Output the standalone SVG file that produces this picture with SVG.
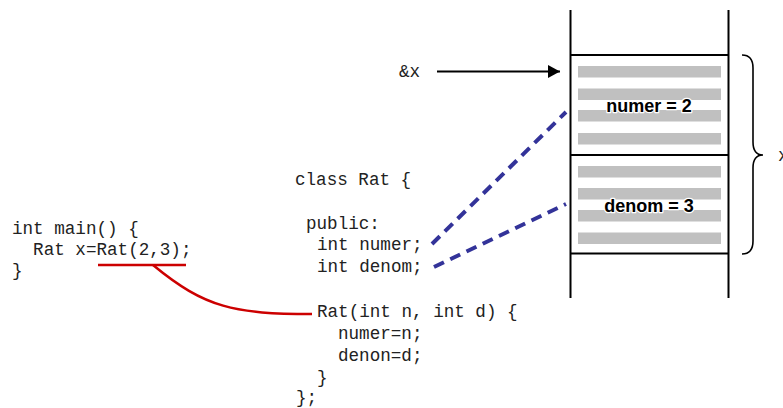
<svg xmlns="http://www.w3.org/2000/svg" width="783" height="408" viewBox="0 0 783 408">
<style>
.code{font-family:"Liberation Mono","Courier New",monospace;font-size:17.6px;fill:#222}
.bar{fill:#c0c0c0}
.lbl{font-family:"Liberation Sans",Arial,sans-serif;font-size:18px;font-weight:bold;fill:#000;text-anchor:middle;stroke:#fff;stroke-width:2.5;paint-order:stroke;stroke-linejoin:round}
.blk{stroke:#000;stroke-width:2;fill:none}
.blue{stroke:#333399;stroke-width:4;stroke-dasharray:11,7;fill:none}
</style>
<defs>
<marker id="ah" markerWidth="12" markerHeight="13" refX="12" refY="6.5" orient="auto" markerUnits="userSpaceOnUse">
<path d="M0,0 L12,6.5 L0,13 Z" fill="#000"/>
</marker>
</defs>
<rect width="783" height="408" fill="#fff"/>
<g id="main-code" class="code">
<text x="12" y="234">int main() {</text>
<text x="12" y="255" xml:space="preserve">  Rat x=Rat(2,3);</text>
<text x="12" y="276">}</text>
</g>
<g id="class-code" class="code">
<text x="295" y="185">class Rat {</text>
<text x="306" y="229">public:</text>
<text x="317" y="250">int numer;</text>
<text x="317" y="272">int denom;</text>
<text x="317" y="317">Rat(int n, int d) {</text>
<text x="338" y="339">numer=n;</text>
<text x="338" y="361">denon=d;</text>
<text x="317" y="383">}</text>
<text x="296" y="403">};</text>
</g>
<g id="addr">
<text x="399" y="77" class="code">&amp;x</text>
</g>
<g id="stack">
<line x1="570.5" y1="10" x2="570.5" y2="298" class="blk"/>
<line x1="728.5" y1="10" x2="728.5" y2="298" class="blk"/>
<line x1="570" y1="55" x2="729" y2="55" class="blk"/>
<line x1="570" y1="155" x2="729" y2="155" class="blk"/>
<line x1="570" y1="253.5" x2="729" y2="253.5" class="blk"/>
</g>
<g id="numer">
<rect class="bar" x="578" y="66" width="143" height="11.5"/>
<rect class="bar" x="578" y="88.5" width="143" height="11.5"/>
<rect class="bar" x="578" y="110" width="143" height="11.5"/>
<rect class="bar" x="578" y="133" width="143" height="11.5"/>
<text class="lbl" x="649" y="111.5">numer = 2</text>
</g>
<g id="denom">
<rect class="bar" x="578" y="166" width="143" height="11.5"/>
<rect class="bar" x="578" y="188" width="143" height="11.5"/>
<rect class="bar" x="578" y="210" width="143" height="11.5"/>
<rect class="bar" x="578" y="232.5" width="143" height="11.5"/>
<text class="lbl" x="649" y="211.5">denom = 3</text>
</g>
<g id="brace">
<path d="M742,55 Q753,55 753,68 L753,142 Q753,155 763,155 Q753,155 753,168 L753,241 Q753,254 742,254" stroke="#000" stroke-width="1.6" fill="none"/>
<text x="778" y="161" class="code">x</text>
</g>
<g id="connectors">
<line x1="437" y1="71.5" x2="560" y2="71.5" stroke="#000" stroke-width="2.2" marker-end="url(#ah)"/>
<line class="blue" x1="432" y1="244" x2="566" y2="112"/>
<line class="blue" x1="434" y1="267" x2="566" y2="204"/>
<line x1="98" y1="265" x2="186" y2="265" stroke="#cc0000" stroke-width="2.5"/>
<path d="M153,265 C205,308 235,314 312,314" stroke="#cc0000" stroke-width="2.5" fill="none"/>
</g>
</svg>
